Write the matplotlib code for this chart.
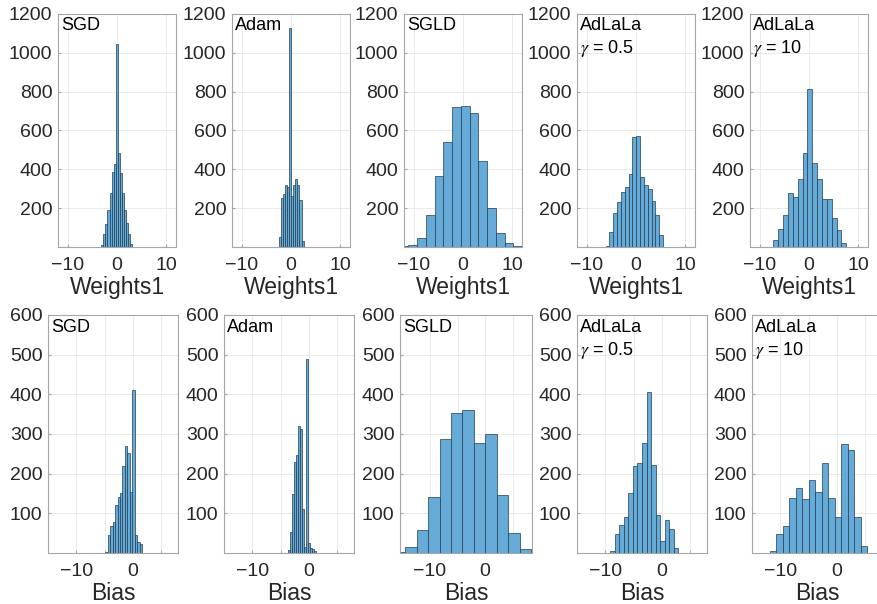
import matplotlib
matplotlib.use("Agg")
import matplotlib.pyplot as plt
import numpy as np

plt.rcParams['font.family'] = ['Liberation Sans', 'DejaVu Sans']
plt.rcParams['mathtext.fontset'] = 'stix'

# panel names
methods = ['SGD', 'Adam', 'SGLD', 'AdLaLa', 'AdLaLa']
gammas = [None, None, None, '0.5', '10']

# top row: Weights1 histograms (first bin edge, bin width, counts)
w_start = [-3.2, -2.48, -12.9, -6.2, -7.25]
w_width = [0.42, 0.42, 1.78, 0.78, 0.99]
w_counts = [
    [10, 67, 117, 190, 280, 388, 427, 1044, 485, 382, 280, 189, 125, 67, 15],
    [50, 250, 275, 318, 310, 1130, 265, 320, 350, 320, 240, 30],
    [3, 12, 48, 163, 364, 541, 722, 725, 688, 442, 203, 74, 21, 5],
    [3, 77, 177, 232, 285, 309, 378, 567, 572, 358, 318, 301, 235, 163, 60],
    [34, 93, 167, 278, 258, 352, 486, 813, 433, 349, 248, 248, 151, 86, 21],
]

# bottom row: Bias histograms
b_start = [-4.9, -3.7, -16.6, -9.1, -11.9]
b_width = [0.44, 0.36, 2.08, 0.80, 1.15]
b_counts = [
    [2, 45, 67, 78, 122, 140, 152, 220, 270, 253, 153, 411, 45, 27, 23],
    [8, 52, 150, 230, 247, 320, 313, 110, 14, 490, 25, 12, 10, 4],
    [3, 16, 58, 140, 287, 352, 360, 277, 301, 145, 50, 9],
    [6, 48, 70, 92, 152, 219, 227, 277, 405, 223, 97, 29, 83, 60, 13],
    [6, 48, 67, 138, 163, 135, 183, 153, 228, 138, 92, 276, 260, 90, 17],
]

W, H = 878, 604
fig = plt.figure(figsize=(W / 100, H / 100), dpi=100)

# axes boxes in pixels: left, top, width, height
top_boxes = [(58, 14, 118, 233), (232, 14, 118, 233), (404, 14, 118, 233),
             (577, 14, 118, 233), (750, 14, 118, 233)]
bot_boxes = [(48, 315, 130, 238), (224, 315, 130, 238), (400, 315, 132, 238),
             (577, 315, 130, 238), (752, 315, 130, 238)]
bot_xlim = [(-15, 8), (-15, 8), (-15.45, 8.5), (-15, 8), (-15, 8)]

face = '#66aad7'
edge = '#203c54'
txt = '#262626'


def make_axes(box):
    l, t, w, h = box
    return fig.add_axes([l / W, 1 - (t + h) / H, w / W, h / H])


def style(ax, xlabel):
    for s in ax.spines.values():
        s.set_color('#a6a6a6')
        s.set_linewidth(0.8)
    ax.tick_params(which='both', direction='in', length=2, color='#a6a6a6',
                   labelsize=14, labelcolor=txt, pad=7)
    ax.tick_params(axis='y', pad=4)
    ax.grid(True, which='both', color='#e6e6e6', linewidth=0.6)
    ax.set_axisbelow(True)
    ax.set_xlabel(xlabel, fontsize=16.5, color=txt, labelpad=2)


def label(ax, i):
    ax.text(0.025, 0.985, methods[i], transform=ax.transAxes, ha='left',
            va='top', fontsize=13, color='black')
    if gammas[i] is not None:
        ax.text(0.025, 0.895, r'$\gamma$ = ' + gammas[i], transform=ax.transAxes,
                ha='left', va='top', fontsize=13, color='black')


for i in range(5):
    ax = make_axes(top_boxes[i])
    edges = w_start[i] + w_width[i] * np.arange(len(w_counts[i]))
    ax.bar(edges, w_counts[i], width=w_width[i], align='edge',
           color=face, edgecolor=edge, linewidth=0.5)
    ax.set_xlim(-12, 12)
    ax.set_ylim(0, 1200)
    ax.set_xticks([-10, 0, 10])
    ax.set_yticks([200, 400, 600, 800, 1000, 1200])
    style(ax, 'Weights1')
    label(ax, i)

for i in range(5):
    ax = make_axes(bot_boxes[i])
    edges = b_start[i] + b_width[i] * np.arange(len(b_counts[i]))
    ax.bar(edges, b_counts[i], width=b_width[i], align='edge',
           color=face, edgecolor=edge, linewidth=0.5)
    ax.set_xlim(*bot_xlim[i])
    ax.set_ylim(0, 600)
    ax.set_xticks([-10, 0])
    ax.set_xticks([-5, 5], minor=True)
    ax.set_yticks([100, 200, 300, 400, 500, 600])
    style(ax, 'Bias')
    label(ax, i)

fig.savefig('out.png', dpi=100)
